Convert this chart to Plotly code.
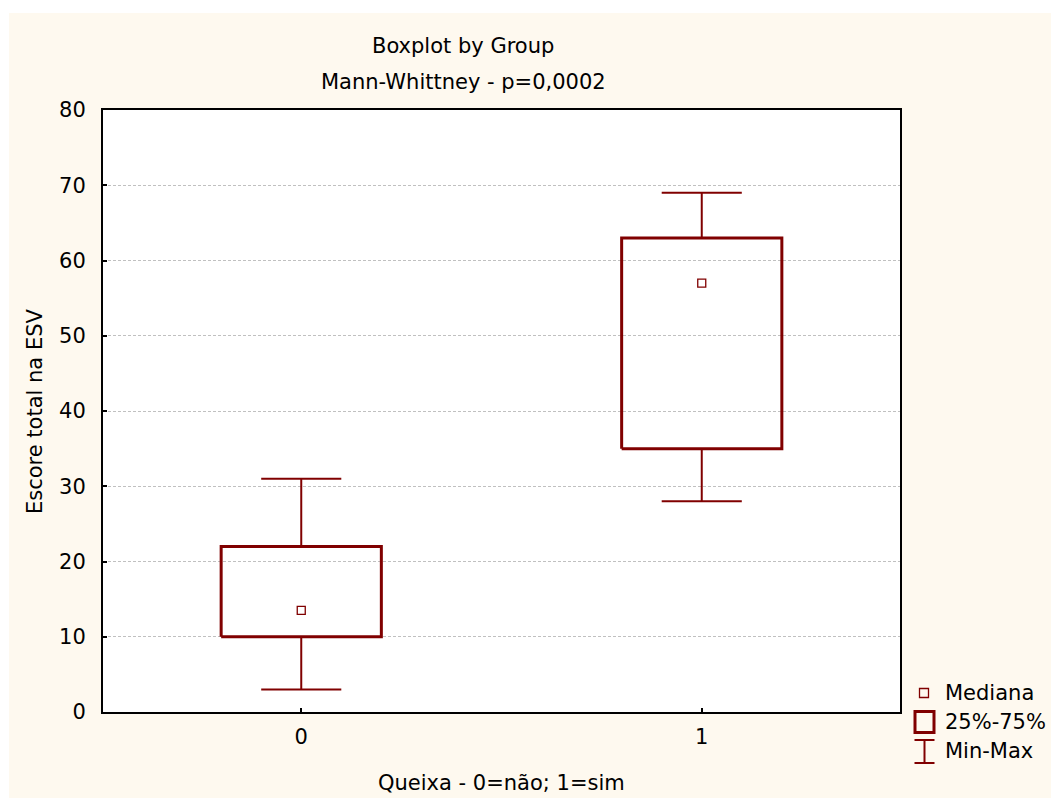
import plotly.graph_objects as go

# ---- data ----
groups = [0, 1]
group_labels = ["0", "1"]
mins = [3, 28]
q1s = [10, 35]
medians = [13.5, 57]
q3s = [22, 63]
maxs = [31, 69]
y_ticks = [0, 10, 20, 30, 40, 50, 60, 70, 80]

# ---- style ----
W, H = 1051, 798
L, R, T, B = 103, 900, 110, 712
MAROON = "#800000"
CREAM = "#FEF9EF"
FONT = "DejaVu Sans, Liberation Sans, Arial, sans-serif"
FS = 21
BOX_HW = 0.2
CAP_HW = 0.1


def px(x):
    return (x - L) / (R - L)


def py(y):
    return (B - y) / (B - T)


# box outlines
bx, by = [], []
for g, a, b in zip(groups, q1s, q3s):
    bx += [g - BOX_HW, g + BOX_HW, g + BOX_HW, g - BOX_HW, g - BOX_HW, None]
    by += [a, a, b, b, a, None]

# whiskers and caps
wx, wy = [], []
for g, lo, a, b, hi in zip(groups, mins, q1s, q3s, maxs):
    wx += [g, g, None, g, g, None]
    wy += [b, hi, None, a, lo, None]
    wx += [g - CAP_HW, g + CAP_HW, None, g - CAP_HW, g + CAP_HW, None]
    wy += [hi, hi, None, lo, lo, None]

fig = go.Figure()
fig.add_trace(go.Scatter(x=wx, y=wy, mode="lines",
                         line=dict(color=MAROON, width=2),
                         showlegend=False, hoverinfo="skip"))
fig.add_trace(go.Scatter(x=bx, y=by, mode="lines",
                         line=dict(color=MAROON, width=3),
                         showlegend=False, hoverinfo="skip"))
fig.add_trace(go.Scatter(x=groups, y=medians, mode="markers",
                         marker=dict(symbol="square-open", size=8, color=MAROON,
                                     line=dict(width=1.3, color=MAROON)),
                         showlegend=False))

shapes = []
# white page strips (top and left)
shapes.append(dict(type="rect", xref="paper", yref="paper", x0=px(0), x1=px(W),
                   y0=py(0), y1=py(13), fillcolor="white", line_width=0, layer="above"))
shapes.append(dict(type="rect", xref="paper", yref="paper", x0=px(0), x1=px(9),
                   y0=py(0), y1=py(H), fillcolor="white", line_width=0, layer="above"))
# legend glyphs
shapes.append(dict(type="rect", xref="paper", yref="paper", x0=px(919.5), x1=px(928.5),
                   y0=py(688.5), y1=py(697.5), line=dict(color=MAROON, width=1.3)))
shapes.append(dict(type="rect", xref="paper", yref="paper", x0=px(915), x1=px(934),
                   y0=py(711.5), y1=py(732.5), line=dict(color=MAROON, width=3)))
shapes.append(dict(type="line", xref="paper", yref="paper", x0=px(924.5), x1=px(924.5),
                   y0=py(740), y1=py(763), line=dict(color=MAROON, width=2)))
shapes.append(dict(type="line", xref="paper", yref="paper", x0=px(914.5), x1=px(934.5),
                   y0=py(740), y1=py(740), line=dict(color=MAROON, width=2)))
shapes.append(dict(type="line", xref="paper", yref="paper", x0=px(914.5), x1=px(934.5),
                   y0=py(763), y1=py(763), line=dict(color=MAROON, width=2)))

annotations = []
for txt, yc in [("Mediana", 693), ("25%-75%", 722), ("Min-Max", 750.5)]:
    annotations.append(dict(text=txt, xref="paper", yref="paper", x=px(943), y=py(yc),
                            xanchor="left", yanchor="middle", showarrow=False,
                            font=dict(family=FONT, size=FS, color="black")))
annotations.append(dict(text="Boxplot by Group", xref="paper", yref="paper",
                        x=px(463), y=py(46), xanchor="center", yanchor="middle",
                        showarrow=False, font=dict(family=FONT, size=FS, color="black")))
annotations.append(dict(text="Mann-Whittney - p=0,0002", xref="paper", yref="paper",
                        x=px(463), y=py(82), xanchor="center", yanchor="middle",
                        showarrow=False, font=dict(family=FONT, size=FS, color="black")))
annotations.append(dict(text="Queixa - 0=não; 1=sim", xref="paper", yref="paper",
                        x=px(501), y=py(783), xanchor="center", yanchor="middle",
                        showarrow=False, font=dict(family=FONT, size=FS, color="black")))
annotations.append(dict(text="Escore total na ESV", xref="paper", yref="paper",
                        x=px(35), y=py(411), xanchor="center", yanchor="middle",
                        textangle=-90, showarrow=False,
                        font=dict(family=FONT, size=FS, color="black")))

fig.update_layout(
    width=W, height=H,
    margin=dict(l=L, r=W - R, t=T, b=H - B, pad=0),
    paper_bgcolor=CREAM, plot_bgcolor="white",
    font=dict(family=FONT, size=FS, color="black"),
    showlegend=False,
    shapes=shapes, annotations=annotations,
    xaxis=dict(range=[-0.495, 1.495], tickmode="array", tickvals=groups,
               ticktext=group_labels, ticks="inside", ticklen=4, tickwidth=2,
               tickcolor="black", showgrid=False, zeroline=False,
               showline=True, linecolor="black", linewidth=2, mirror=True,
               ticklabelstandoff=5),
    yaxis=dict(range=[0, 80], tickmode="array", tickvals=y_ticks,
               ticks="inside", ticklen=4, tickwidth=2, tickcolor="black",
               showgrid=True, gridcolor="#C0C0C0", gridwidth=1, griddash="3px,2px",
               zeroline=False, showline=True, linecolor="black", linewidth=2,
               mirror=True, ticklabelstandoff=11),
)

fig.write_html("out.html", config={"displayModeBar": False},
               post_script="document.body.style.margin='0';document.body.style.overflow='hidden';")
